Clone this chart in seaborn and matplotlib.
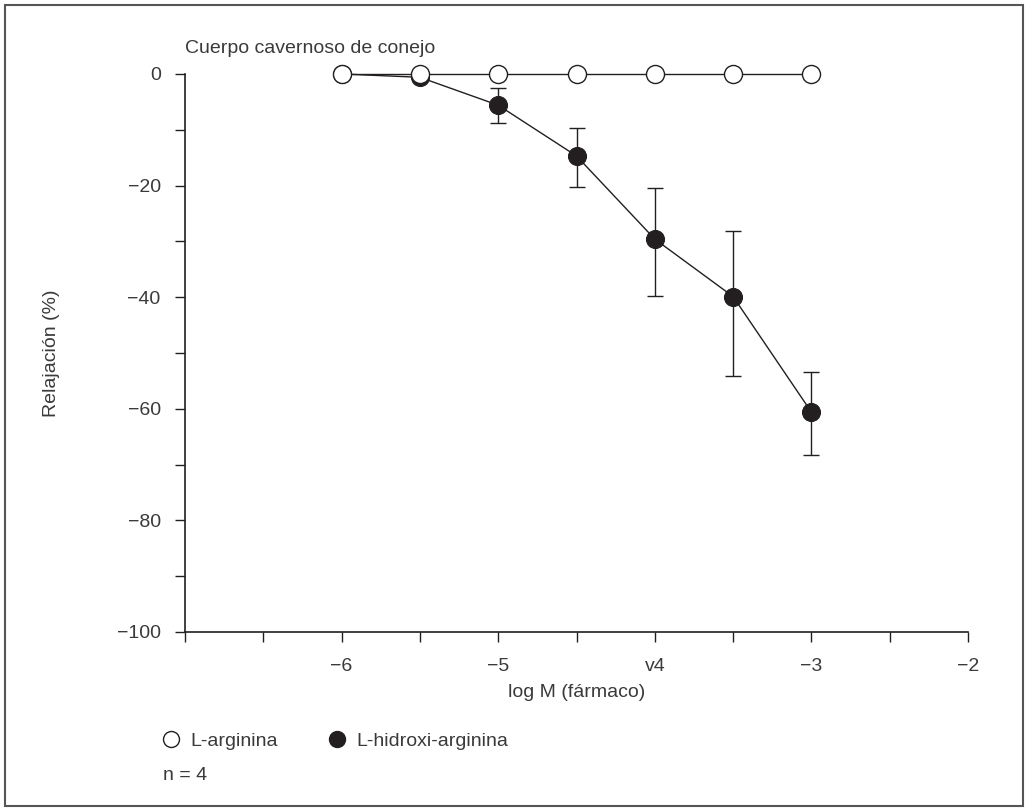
import matplotlib
matplotlib.use("Agg")
import matplotlib.pyplot as plt
from matplotlib.lines import Line2D
from matplotlib.patches import Rectangle
import pandas as pd
import seaborn as sns

# log concentration of drug
log_m_arg = [-6, -5.5, -5, -4.5, -4, -3.5, -3]
relax_arg = [0, 0, 0, 0, 0, 0, 0]

log_m_hyd = [-6, -5.5, -5, -4.5, -4, -3.5, -3]
relax_hyd = [0, -0.6, -5.6, -14.7, -29.6, -39.9, -60.6]
err_low = [0, 0, 3.2, 5.6, 10.2, 14.2, 7.7]
err_high = [0, 0, 3.1, 5.0, 9.2, 11.8, 7.2]

x_ticks = [-7, -6.5, -6, -5.5, -5, -4.5, -4, -3.5, -3, -2.5, -2]
x_labels = ["", "", "\u22126", "", "\u22125", "", "v4", "", "\u22123", "", "\u22122"]
y_ticks = [0, -10, -20, -30, -40, -50, -60, -70, -80, -90, -100]
y_labels = ["0", "", "\u221220", "", "\u221240", "", "\u221260", "", "\u221280", "", "\u2212100"]

sns.set_style("white")
plt.rcParams["font.family"] = ["Liberation Sans", "DejaVu Sans"]
ink = "#231f20"
txt = "#3a3a3a"
fs = 14

df_arg = pd.DataFrame({"x": log_m_arg, "y": relax_arg})
df_hyd = pd.DataFrame({"x": log_m_hyd, "y": relax_hyd})

fig = plt.figure(figsize=(10.26, 8.10), dpi=100)
ax = fig.add_axes([0.1803, 0.2198, 0.7632, 0.6889])

ax.errorbar(log_m_hyd, relax_hyd, yerr=[err_low, err_high], fmt="none",
            ecolor=ink, elinewidth=1.0, capsize=6, capthick=1.0, zorder=2)
sns.lineplot(data=df_hyd, x="x", y="y", ax=ax, color=ink, linewidth=1.0,
             marker="o", markersize=13, markerfacecolor=ink, markeredgecolor=ink,
             zorder=3, clip_on=False)
sns.lineplot(data=df_arg, x="x", y="y", ax=ax, color=ink, linewidth=1.0,
             marker="o", markersize=13, markerfacecolor="white", markeredgecolor=ink,
             markeredgewidth=1.0, zorder=4, clip_on=False)

ax.set_xlim(-7, -2)
ax.set_ylim(-100, 0)
ax.set_xticks(x_ticks)
ax.set_xticklabels(x_labels)
ax.set_yticks(y_ticks)
ax.set_yticklabels(y_labels)
ax.tick_params(axis="both", direction="out", length=7.5, width=1.0, color=ink,
               labelsize=fs, labelcolor=txt, bottom=True, left=True)
ax.tick_params(axis="x", pad=11)
ax.tick_params(axis="y", pad=10)
for side in ["top", "right"]:
    ax.spines[side].set_visible(False)
for side in ["left", "bottom"]:
    ax.spines[side].set_color(ink)
    ax.spines[side].set_linewidth(1.2)

ax.set_xlabel("log M (fármaco)", fontsize=fs, color=txt, labelpad=7)
ax.set_ylabel("Relajación (%)", fontsize=fs, color=txt, labelpad=41)

fig.text(185 / 1026, 1 - 53 / 810, "Cuerpo cavernoso de conejo",
         fontsize=fs, color=txt, va="baseline")

handles = [
    Line2D([], [], linestyle="none", marker="o", markersize=11.5,
           markerfacecolor="white", markeredgecolor=ink, markeredgewidth=1.0),
    Line2D([], [], linestyle="none", marker="o", markersize=11.5,
           markerfacecolor=ink, markeredgecolor=ink),
]
fig.legend(handles, ["L-arginina", "L-hidroxi-arginina"], ncol=2, frameon=False,
           loc="center left", bbox_to_anchor=(162 / 1026, 1 - 741 / 810),
           fontsize=fs, labelcolor=txt, handlelength=0.9, handletextpad=0.55,
           columnspacing=2.6, borderpad=0, borderaxespad=0)

fig.text(163 / 1026, 1 - 780 / 810, "n = 4", fontsize=fs, color=txt, va="baseline")

fig.patches.append(Rectangle((5 / 1026, 4 / 810), 1018 / 1026, 801 / 810,
                             transform=fig.transFigure, fill=False,
                             edgecolor="#555555", linewidth=1.5))

fig.savefig("out.png", dpi=100)
